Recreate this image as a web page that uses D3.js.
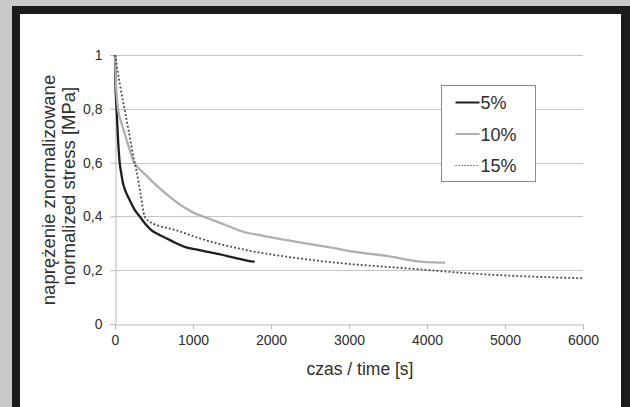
<!DOCTYPE html>
<html>
<head>
<meta charset="utf-8">
<script src="https://cdn.jsdelivr.net/npm/d3@7"></script>
<style>
  html, body { margin: 0; padding: 0; background: #c9c9c9; }
  svg { display: block; font-family: "Liberation Sans", Arial, sans-serif; }
</style>
</head>
<body>
<svg id="chart" width="630" height="407"></svg>
<script>
// data: time [s] and normalized stress
const time5 = [0, 5, 20, 40, 60, 80, 103, 140, 188, 250, 316, 390, 466, 560, 658, 770, 893, 1040, 1192, 1300, 1432, 1600, 1773, 1790];
const stress5 = [1.0, 0.9, 0.8, 0.68, 0.6, 0.56, 0.523, 0.49, 0.461, 0.425, 0.4, 0.372, 0.349, 0.333, 0.319, 0.302, 0.287, 0.277, 0.268, 0.262, 0.253, 0.242, 0.232, 0.233];

const time10 = [0, 15, 38, 80, 124, 188, 244, 300, 380, 460, 551, 680, 808, 1000, 1192, 1400, 1645, 1900, 2201, 2500, 2756, 3055, 3483, 3910, 4100, 4231];
const stress10 = [1.0, 0.88, 0.8, 0.75, 0.709, 0.647, 0.6, 0.58, 0.558, 0.535, 0.51, 0.478, 0.449, 0.415, 0.393, 0.37, 0.343, 0.328, 0.312, 0.297, 0.285, 0.269, 0.253, 0.232, 0.229, 0.228];

const time15 = [0, 60, 115, 180, 244, 274, 330, 380, 445, 530, 765, 1090, 1645, 2201, 2700, 3055, 3500, 3910, 4551, 5192, 6000];
const stress15 = [1.0, 0.895, 0.81, 0.71, 0.61, 0.572, 0.48, 0.4, 0.38, 0.368, 0.35, 0.318, 0.277, 0.25, 0.232, 0.222, 0.212, 0.203, 0.188, 0.178, 0.17];

const seriesNames = ["5%", "10%", "15%"];
const xTicks = [0, 1000, 2000, 3000, 4000, 5000, 6000];
const yTicks = [0, 0.2, 0.4, 0.6, 0.8, 1];
const yTitle = ["naprężenie znormalizowane", "normalized stress [MPa]"];
const xTitle = "czas / time [s]";

const svg = d3.select("#chart");

// frame
svg.append("rect").attr("x", 12).attr("y", 6).attr("width", 618).attr("height", 401).attr("fill", "#1b1b1b");
svg.append("rect").attr("x", 20).attr("y", 14).attr("width", 601).attr("height", 393).attr("fill", "#fff");

const x = d3.scaleLinear().domain([0, 6000]).range([115, 583]);
const y = d3.scaleLinear().domain([0, 1]).range([324, 55]);
const fmt = v => String(v).replace(".", ",");

// gridlines
svg.append("g").selectAll("line")
  .data(yTicks.filter(d => d > 0)).join("line")
  .attr("x1", x(0)).attr("x2", x(6000))
  .attr("y1", d => Math.round(y(d)) + 0.5).attr("y2", d => Math.round(y(d)) + 0.5)
  .attr("stroke", "#c6c6c6").attr("stroke-width", 1);

// axes
const yAxis = svg.append("g").attr("transform", `translate(${x(0) + 0.5},0)`)
  .call(d3.axisLeft(y).tickValues(yTicks).tickFormat(fmt).tickSize(5).tickPadding(8));
const xAxis = svg.append("g").attr("transform", `translate(0,${Math.round(y(0)) + 0.5})`)
  .call(d3.axisBottom(x).tickValues(xTicks).tickFormat(d => d).tickSize(5).tickPadding(6));
[yAxis, xAxis].forEach(a => {
  a.select(".domain").attr("stroke", "#b8b8b8");
  a.selectAll(".tick line").attr("stroke", "#b8b8b8");
  a.selectAll(".tick text").attr("fill", "#2e2e2e").style("font-size", "14px")
    .style("font-family", "'Liberation Sans', Arial, sans-serif");
});

// titles
svg.append("text").attr("x", 360).attr("y", 375).attr("text-anchor", "middle")
  .attr("fill", "#2e2e2e").style("font-size", "17.5px").text(xTitle);
svg.append("text").attr("transform", "translate(55,190) rotate(-90)").attr("text-anchor", "middle")
  .attr("fill", "#2e2e2e").style("font-size", "18.5px").text(yTitle[0]);
svg.append("text").attr("transform", "translate(75,186) rotate(-90)").attr("text-anchor", "middle")
  .attr("fill", "#2e2e2e").style("font-size", "18.5px").text(yTitle[1]);

// series
const styles = [
  { stroke: "#1e1e1e", width: 2.3, dash: null },
  { stroke: "#b0b0b0", width: 2.3, dash: null },
  { stroke: "#444", width: 1.8, dash: "1.8,2.2" }
];
const series = [
  d3.zip(time5, stress5),
  d3.zip(time10, stress10),
  d3.zip(time15, stress15)
];
const line = d3.line().x(d => x(d[0])).y(d => y(d[1])).curve(d3.curveMonotoneX);
svg.append("g").selectAll("path")
  .data(series).join("path")
  .attr("d", line)
  .attr("fill", "none")
  .attr("stroke", (d, i) => styles[i].stroke)
  .attr("stroke-width", (d, i) => styles[i].width)
  .attr("stroke-dasharray", (d, i) => styles[i].dash);

// legend
const lg = svg.append("g").attr("transform", "translate(441.5,85.5)");
lg.append("rect").attr("width", 94).attr("height", 96).attr("fill", "#fff").attr("stroke", "#8a8a8a");
const item = lg.selectAll("g.item").data(seriesNames).join("g")
  .attr("class", "item")
  .attr("transform", (d, i) => `translate(0,${17 + i * 31.5})`);
item.append("line").attr("x1", 14).attr("x2", 38).attr("y1", 0).attr("y2", 0)
  .attr("stroke", (d, i) => styles[i].stroke)
  .attr("stroke-width", (d, i) => i === 2 ? 1.2 : 2)
  .attr("stroke-dasharray", (d, i) => i === 2 ? "1.2,1.8" : null);
item.append("text").attr("x", 39).attr("y", 6.5).attr("fill", "#2e2e2e")
  .style("font-size", "18px").text(d => d);
</script>
</body>
</html>
